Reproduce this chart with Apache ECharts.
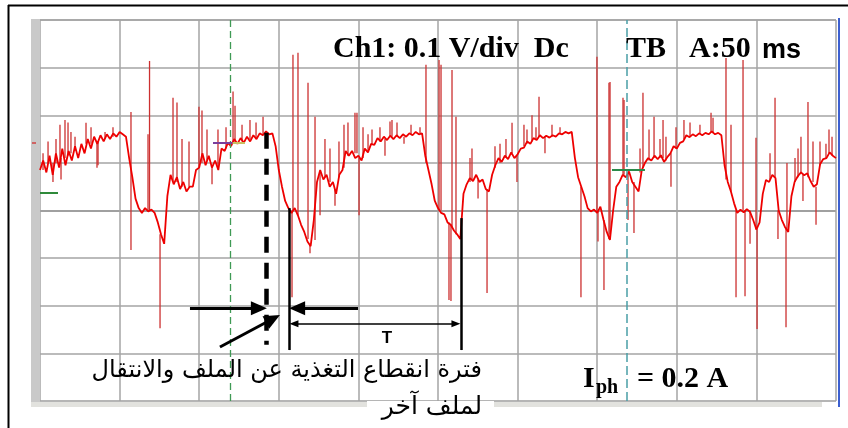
<!DOCTYPE html>
<html>
<head>
<meta charset="utf-8">
<script src="https://cdn.jsdelivr.net/npm/echarts@6/dist/echarts.min.js"></script>
<style>
html,body{margin:0;padding:0;background:#fff;}
#c{width:848px;height:428px;}
</style>
</head>
<body>
<div id="c"></div>
<script>
// Horizontal axis: divisions (50 ms/div), vertical axis: divisions (0.1 V/div)
const xTicks = [0,1,2,3,4,5,6,7,8,9,10];
const yTicks = [0,1,2,3,4,5,6,7,8];
const TRACE_STEP = 0.04; // divisions between trace samples

// Main noisy trace (one value every 0.04 div)
const traceY = [
 4.85,5.05,4.8,5.15,4.75,5.2,4.9,5.3,4.95,5.25,
 5.05,5.35,5.1,5.4,5.2,5.5,5.3,5.55,5.4,5.58,
 5.45,5.6,5.5,5.62,5.55,5.65,5.6,5.55,5.1,4.7,
 4.25,4.05,3.95,4.05,3.98,4.02,3.95,3.75,3.5,3.3,
 4.3,4.75,4.55,4.7,4.45,4.6,4.4,4.5,4.5,4.85,
 4.9,5.2,4.95,5.15,4.9,5.05,4.85,5.3,5.25,5.42,
 5.35,5.5,5.4,5.52,5.42,5.55,5.45,5.58,5.5,5.62,
 5.58,5.66,5.6,5.62,5.35,4.85,4.5,4.2,4.05,3.95,
 4.05,3.9,3.7,3.55,3.35,3.25,3.8,4.6,4.85,4.65,
 4.75,4.5,4.6,4.35,4.75,4.85,5.25,5.15,5.25,5.1,
 5.15,5.05,5.3,5.22,5.4,5.38,5.52,5.45,5.55,5.48,
 5.57,5.5,5.58,5.52,5.6,5.55,5.62,5.58,5.65,5.6,
 5.62,5.15,4.85,4.55,4.2,4.05,3.95,3.92,3.75,3.7,
 3.58,3.5,3.4,4.35,4.55,4.68,4.62,4.75,4.6,4.65,
 4.45,4.4,4.75,4.95,5.1,5.02,5.15,5.08,5.22,5.1,
 5.18,5.3,5.32,5.45,5.4,5.52,5.48,5.58,5.52,5.57,
 5.53,5.58,5.55,5.62,5.6,5.65,5.62,5.65,5.1,4.7,
 4.5,4.3,4.05,3.98,4.02,3.95,4.08,3.8,3.55,3.38,
 4.0,4.5,4.6,4.75,4.7,4.82,4.6,4.5,4.4,4.85,
 5.0,5.1,5.05,5.15,5.08,5.16,5.02,5.12,5.2,5.35,
 5.3,5.42,5.45,5.58,5.54,5.6,5.56,5.62,5.58,5.63,
 5.6,5.66,5.6,5.63,5.58,4.95,4.6,4.4,4.15,3.95,
 4.02,3.96,4.03,3.97,3.8,3.6,3.75,4.35,4.64,4.6,
 4.75,4.68,4.0,3.8,3.65,3.55,4.3,4.6,4.72,4.8,
 4.74,4.78,4.62,4.5,4.55,4.97,5.08,5.1,5.22,5.15,
 5.1
];

// Large switching spikes: position (div), start level, tip level
const spikeX    = [0.251,0.314,0.578,0.716,1.143,1.357,1.376,1.508,1.671,1.721,1.784,1.997,2.035,2.236,2.425,2.45,2.802,
                   3.166,3.178,3.241,3.367,3.392,3.455,3.518,3.756,3.957,3.982,4.008,4.171,4.334,4.397,4.422,
                   4.849,5.013,5.038,5.138,5.163,5.176,5.226,5.427,5.616,5.93,5.992,6.08,6.181,6.269,6.344,
                   6.796,6.997,7.01,7.085,7.148,7.161,7.324,7.337,7.387,7.462,7.575,7.714,7.827,7.927,8.09,
                   8.43,8.618,8.681,8.744,8.832,8.857,8.92,8.995,9.008,9.234,9.271,9.372,9.384,9.56,9.585,9.648,9.711,9.749,9.874,9.912];
const spikeFrom = [5.05,5.1,5.4,5.45,3.17,4.0,4.0,3.5,4.6,4.6,4.5,4.9,5.0,4.9,5.4,5.4,5.6,
                   4.0,4.0,3.9,3.4,3.3,3.38,4.8,4.7,5.2,5.2,5.1,5.4,5.5,5.55,5.55,
                   5.0,4.0,4.0,3.75,3.7,3.65,3.5,4.65,4.45,5.2,5.15,5.35,5.45,5.55,5.55,
                   4.5,3.97,4.0,3.8,3.4,3.5,4.75,4.75,4.8,4.6,4.9,5.1,5.1,5.2,5.5,
                   5.63,4.65,4.4,4.0,4.0,4.0,4.0,3.6,3.6,4.7,4.0,3.65,3.6,4.8,4.75,4.7,4.6,4.5,5.1,5.2];
const spikeTo   = [5.8,5.9,5.84,4.9,6.07,5.6,7.14,1.53,6.37,6.27,5.5,6.18,6.1,5.7,6.5,6.2,5.97,
                   2.18,7.27,7.31,6.68,3.1,5.97,3.9,5.45,6.05,6.05,3.9,5.7,5.15,5.87,5.9,
                   7.06,7.16,7.06,2.12,2.1,6.95,5.97,5.3,2.27,5.84,4.6,5.8,6.0,6.39,5.2,
                   2.18,7.23,3.35,2.33,6.68,6.7,6.37,6.32,3.8,3.53,6.47,5.97,5.9,4.5,5.9,
                   6.05,7.2,5.8,2.18,7.16,2.2,3.3,5.53,1.51,6.37,3.4,1.55,5.0,5.55,4.2,6.28,5.45,3.7,5.4,5.7];

// Small noise spikes riding on the trace
const fuzzX    = [0.038,0.101,0.163,0.201,0.264,0.352,0.389,0.44,0.641,0.729,0.817,0.917,
                  1.872,2.098,2.161,2.337,2.538,2.638,2.714,
                  3.58,3.643,3.706,3.819,3.869,4.058,4.121,4.271,4.485,4.573,4.661,4.774,
                  5.402,5.503,5.716,5.779,5.854,6.118,6.231,6.432,6.533,
                  7.538,7.651,7.789,7.864,7.99,8.166,8.291,8.455,
                  9.171,9.485,9.523,9.799,9.95];
const fuzzFrom = [4.85,5.0,5.0,5.0,5.1,5.15,5.2,5.25,5.4,5.45,5.5,5.55,
                  4.5,5.05,4.95,5.3,5.45,5.5,5.5,
                  4.7,4.6,4.45,4.9,5.15,5.1,5.25,5.45,5.55,5.55,5.6,5.62,
                  4.6,4.65,4.9,5.0,5.1,5.4,5.5,5.55,5.6,
                  4.8,5.05,5.1,5.05,5.3,5.55,5.6,5.62,
                  4.65,4.6,4.7,4.95,5.15];
const fuzzTo   = [5.2,5.45,4.6,5.5,4.65,5.85,5.65,5.55,5.75,4.95,5.65,5.75,
                  5.45,5.7,4.55,5.75,5.8,5.9,5.85,
                  5.5,5.3,4.1,5.8,5.85,5.75,5.6,5.75,5.85,5.4,5.8,5.75,
                  5.1,4.25,5.35,5.4,5.5,5.7,5.75,5.8,5.75,
                  5.3,5.7,5.5,5.55,5.75,5.85,5.8,5.95,
                  5.2,5.1,5.3,5.45,5.55];

const traceData = traceY.map((y, i) => [+(i * TRACE_STEP).toFixed(3), y]);
const spikeData = spikeX.map((x, i) => [x, spikeFrom[i], spikeTo[i]])
  .concat(fuzzX.map((x, i) => [x, fuzzFrom[i], fuzzTo[i]]));

const gridColors = ['#9c9c9c','#a4a4a4','#a4a4a4','#a4a4a4','#808080','#a4a4a4','#a4a4a4','#a4a4a4','#8c8c8c'];

const chart = echarts.init(document.getElementById('c'), null, {renderer: 'canvas'});

function seg(x1, y1, x2, y2) { return [{coord: [x1, y1]}, {coord: [x2, y2]}]; }
const noLabel = {show: false};

const option = {
  animation: false,
  backgroundColor: '#ffffff',
  grid: {left: 40, top: 20, width: 796, height: 381, show: false},
  xAxis: {
    type: 'value', min: xTicks[0], max: xTicks[xTicks.length - 1], interval: 1,
    axisLine: {show: false}, axisTick: {show: false}, axisLabel: {show: false},
    splitLine: {show: true, lineStyle: {color: '#a4a4a4', width: 1.5}}
  },
  yAxis: {
    type: 'value', min: yTicks[0], max: yTicks[yTicks.length - 1], interval: 1,
    axisLine: {show: false}, axisTick: {show: false}, axisLabel: {show: false},
    splitLine: {show: true, lineStyle: {color: gridColors, width: 1.5}}
  },
  series: [
    {
      type: 'custom', name: 'spikes', z: 2, clip: true,
      data: spikeData,
      encode: {x: 0, y: [1, 2]},
      renderItem: function (params, api) {
        const a = api.coord([api.value(0), api.value(1)]);
        const b = api.coord([api.value(0), api.value(2)]);
        return {type: 'line', shape: {x1: a[0], y1: a[1], x2: b[0], y2: b[1]},
                style: {stroke: '#cc3030', lineWidth: 1.3}};
      }
    },
    {
      type: 'line', name: 'trace', z: 3, data: traceData,
      showSymbol: false, symbol: 'none', silent: true,
      lineStyle: {color: '#ee0000', width: 1.8}
    },
    {
      // oscilloscope cursors
      type: 'line', name: 'cursors', z: 4, data: [], silent: true,
      markLine: {
        silent: true, symbol: ['none', 'none'], label: noLabel, animation: false,
        data: [
          {xAxis: 2.387, lineStyle: {color: '#3f9a55', width: 1.3, type: [7, 4]}},
          {xAxis: 7.374, lineStyle: {color: '#4a9ea6', width: 1.5, type: [9, 4]}},
          [{coord: [0, 4.37], lineStyle: {color: '#2f8a3a', width: 2, type: 'solid'}}, {coord: [0.226, 4.37]}],
          [{coord: [2.173, 5.42], lineStyle: {color: '#7a3d9a', width: 2, type: 'solid'}}, {coord: [2.42, 5.42]}],
          [{coord: [2.42, 5.42], lineStyle: {color: '#c8c060', width: 2, type: 'solid'}}, {coord: [2.575, 5.42]}],
          [{coord: [7.186, 4.85], lineStyle: {color: '#2a8a4a', width: 2.2, type: 'solid'}}, {coord: [7.6, 4.85]}]
        ]
      }
    },
    {
      // black annotation lines
      type: 'line', name: 'annot', z: 6, data: [], silent: true,
      markLine: {
        silent: true, symbol: ['none', 'none'], label: noLabel, animation: false,
        data: [
          [{coord: [2.839, 5.63], lineStyle: {color: '#000', width: 4.5, type: [16, 10]}}, {coord: [2.839, 1.18]}],
          [{coord: [3.128, 4.05], lineStyle: {color: '#000', width: 2.5, type: 'solid'}}, {coord: [3.128, 1.07]}],
          [{coord: [5.289, 3.84], lineStyle: {color: '#000', width: 2.5, type: 'solid'}}, {coord: [5.289, 1.07]}]
        ]
      }
    },
    {
      type: 'line', name: 'arrowsThick', z: 6, data: [], silent: true,
      markLine: {
        silent: true, symbol: ['none', 'triangle'], symbolSize: [14, 16], label: noLabel, animation: false,
        lineStyle: {color: '#000', width: 3, type: 'solid'},
        data: [
          seg(1.884, 1.95, 2.75, 1.95),
          seg(3.995, 1.95, 3.23, 1.95),
          seg(2.261, 1.134, 2.926, 1.727)
        ]
      }
    },
    {
      type: 'line', name: 'arrowT', z: 6, data: [], silent: true,
      markLine: {
        silent: true, symbol: ['triangle', 'triangle'], symbolSize: [7, 9], label: noLabel, animation: false,
        lineStyle: {color: '#000', width: 1.5, type: 'solid'},
        data: [seg(3.19, 1.62, 5.225, 1.62)]
      }
    }
  ],
  graphic: [
    // outer frame
    {type: 'line', z: 100, shape: {x1: 8.5, y1: 5, x2: 8.5, y2: 428}, style: {stroke: '#000', lineWidth: 2}},
    {type: 'line', z: 100, shape: {x1: 8, y1: 5.5, x2: 848, y2: 5.5}, style: {stroke: '#000', lineWidth: 2}},
    // scope left bar and bottom strip
    {type: 'rect', z: 1, shape: {x: 31, y: 19, width: 9, height: 388}, style: {fill: '#c9c9c9'}},
    {type: 'rect', z: 1, shape: {x: 31, y: 402, width: 336, height: 5}, style: {fill: '#e2e2de'}},
    {type: 'rect', z: 1, shape: {x: 494, y: 402, width: 328, height: 5}, style: {fill: '#e2e2de'}},
    {type: 'line', z: 1, shape: {x1: 839, y1: 18, x2: 839, y2: 407}, style: {stroke: '#3c5fcf', lineWidth: 2}},
    {type: 'line', z: 1, shape: {x1: 32, y1: 143, x2: 36, y2: 143}, style: {stroke: '#d04040', lineWidth: 1.5}},
    // header texts
    {type: 'text', z: 50, x: 333, y: 49, style: {text: 'Ch1: 0.1 V/div  Dc', font: 'bold 30px "Liberation Serif", "Times New Roman", serif', fill: '#000', align: 'left', verticalAlign: 'middle', textAlign: 'left', textVerticalAlign: 'middle'}},
    {type: 'text', z: 50, x: 626, y: 49, style: {text: 'TB', font: 'bold 30px "Liberation Serif", "Times New Roman", serif', fill: '#000', align: 'left', verticalAlign: 'middle', textAlign: 'left', textVerticalAlign: 'middle'}},
    {type: 'text', z: 50, x: 689, y: 49, style: {text: 'A:50', font: 'bold 30px "Liberation Serif", "Times New Roman", serif', fill: '#000', align: 'left', verticalAlign: 'middle', textAlign: 'left', textVerticalAlign: 'middle'}},
    {type: 'text', z: 50, x: 762, y: 51, style: {text: 'ms', font: 'bold 27px "Liberation Sans Narrow", "Liberation Sans", Arial, sans-serif', fill: '#000', align: 'left', verticalAlign: 'middle', textAlign: 'left', textVerticalAlign: 'middle'}},
    // I_ph label
    {type: 'text', z: 50, x: 583, y: 379, style: {text: 'I', font: 'bold 30px "Liberation Serif", "Times New Roman", serif', fill: '#000', align: 'left', verticalAlign: 'middle', textAlign: 'left', textVerticalAlign: 'middle'}},
    {type: 'text', z: 50, x: 596, y: 388, style: {text: 'ph', font: 'bold 20px "Liberation Serif", "Times New Roman", serif', fill: '#000', align: 'left', verticalAlign: 'middle', textAlign: 'left', textVerticalAlign: 'middle'}},
    {type: 'text', z: 50, x: 637, y: 379, style: {text: '= 0.2 A', font: 'bold 30px "Liberation Serif", "Times New Roman", serif', fill: '#000', align: 'left', verticalAlign: 'middle', textAlign: 'left', textVerticalAlign: 'middle'}},
    // T label
    {type: 'text', z: 50, x: 387, y: 338, style: {text: 'T', font: 'bold 17px "Liberation Sans", Arial, sans-serif', fill: '#000', align: 'center', verticalAlign: 'middle', textAlign: 'center', textVerticalAlign: 'middle'}},
    // Arabic caption
    {type: 'text', z: 50, x: 482, y: 371, style: {text: 'فترة انقطاع التغذية عن الملف والانتقال', font: '24px "DejaVu Sans", sans-serif', fill: '#000', align: 'right', verticalAlign: 'middle', textAlign: 'right', textVerticalAlign: 'middle'}},
    {type: 'rect', z: 49, shape: {x: 367, y: 401, width: 127, height: 27}, style: {fill: '#fff'}},
    {type: 'text', z: 50, x: 482, y: 407, style: {text: 'لملف آخر', font: '25px "DejaVu Sans", sans-serif', fill: '#000', align: 'right', verticalAlign: 'middle', textAlign: 'right', textVerticalAlign: 'middle'}}
  ]
};
chart.setOption(option);
</script>
</body>
</html>
